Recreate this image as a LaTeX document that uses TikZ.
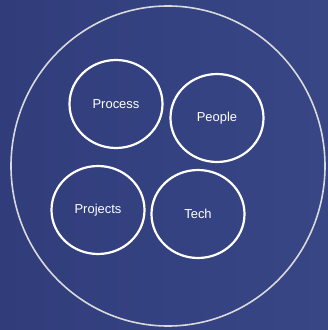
\documentclass[tikz,border=0pt]{standalone}
\usepackage{fontspec}
\setmainfont{Liberation Sans}
\usepackage{xcolor}
\usepackage{tikz}
\usetikzlibrary{shapes.geometric}
\definecolor{bgleft}{HTML}{313D7B}
\definecolor{bgright}{HTML}{384686}
\definecolor{ringgray}{HTML}{D9D9DC}

\begin{document}
\begin{tikzpicture}[x=1bp,y=1bp,
  area/.style={ellipse, draw=white, line width=2.2bp, minimum width=93bp,
    minimum height=88bp, inner sep=0pt, text=white,
    font=\fontsize{13}{15}\selectfont}]

% Background
\shade[left color=bgleft, right color=bgright] (0,0) rectangle (328,330);
\useasboundingbox (0,0) rectangle (328,330);

% Outer ring
\draw[ringgray, line width=1.6bp] (168,164) ellipse [x radius=157, y radius=160];

% Inner circles
\node[area] (process)  at (116,226) {Process};
\node[area] (people)   at (217,212) {People};
\node[area] (projects) at (98,120)  {Projects};
\node[area] (tech)     at (198,116) {Tech};

\end{tikzpicture}
\end{document}
